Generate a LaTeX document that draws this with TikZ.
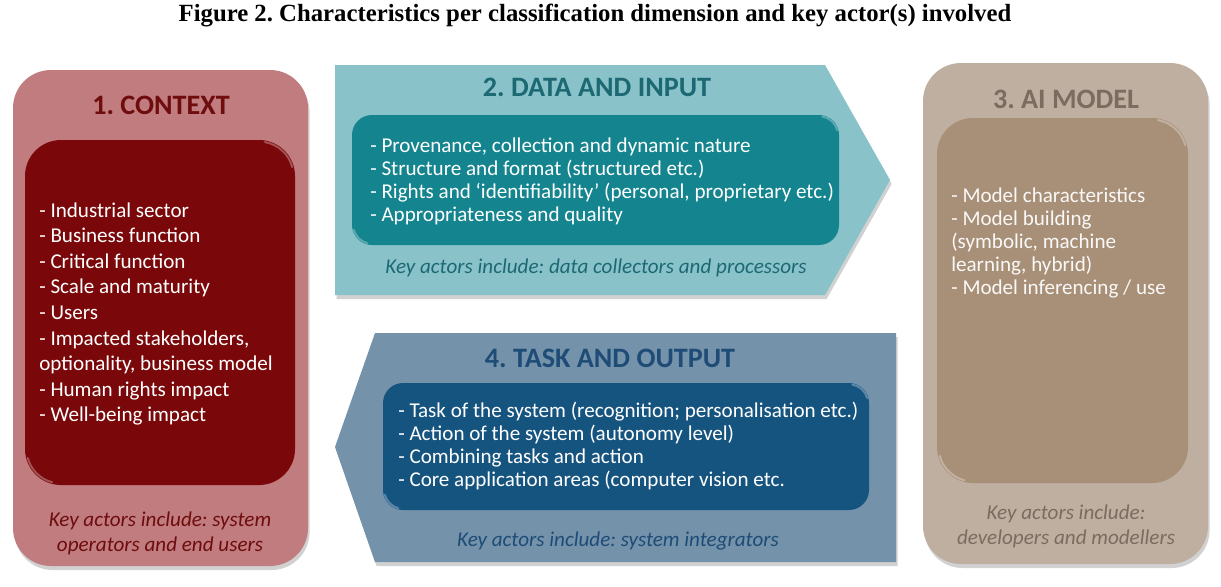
\documentclass[tikz,border=0pt]{standalone}
\usepackage{fontspec}
\setmainfont{Liberation Serif}
\setsansfont{Carlito}
\usetikzlibrary{positioning,shadows}
\frenchspacing
\definecolor{ctxout}{RGB}{192,124,126}
\definecolor{ctxin}{RGB}{122,8,10}
\definecolor{ctxtxt}{RGB}{110,12,14}
\definecolor{datout}{RGB}{138,194,202}
\definecolor{datin}{RGB}{20,132,142}
\definecolor{dattxt}{RGB}{28,105,115}
\definecolor{modout}{RGB}{191,175,160}
\definecolor{modin}{RGB}{168,144,120}
\definecolor{modtxt}{RGB}{122,108,96}
\definecolor{tskout}{RGB}{116,146,170}
\definecolor{tskin}{RGB}{22,84,128}
\definecolor{tsktxt}{RGB}{30,76,118}
\tikzset{
  outbox/.style ={rounded corners=0.95cm,
                  drop shadow={shadow xshift=0.4mm, shadow yshift=-1mm,
                               opacity=0.3, fill=black!60}},
  arrbox/.style ={drop shadow={shadow xshift=0.4mm, shadow yshift=-1mm,
                               opacity=0.3, fill=black!60}},
  inbox/.style  ={rounded corners=0.9cm},
  inboxs/.style ={rounded corners=0.5cm},
  bevel/.style  ={white, opacity=0.3, line width=1.4pt, line cap=round},
  ttl/.style    ={font=\sffamily\bfseries\fontsize{20}{24}\selectfont},
  lst/.style    ={anchor=west, align=left, inner sep=0pt, text=white,
                  font=\sffamily\fontsize{15}{16.4}\selectfont},
  lstw/.style   ={lst, font=\sffamily\fontsize{15}{18.2}\selectfont},
  keyact/.style ={align=center, inner sep=0pt,
                  font=\sffamily\itshape\fontsize{15}{17.7}\selectfont},
  figttl/.style ={font=\bfseries\fontsize{17.6}{20}\selectfont, inner sep=0pt},
}
\begin{document}
\begin{tikzpicture}[x=0.025cm, y=-0.025cm]
  \useasboundingbox (0,0) rectangle (1221,586);
  \node[figttl] (fig) at (595,16)
    {Figure 2. Characteristics per classification dimension and key actor(s) involved};
  % ---- 1. context (left)
  \path[outbox, fill=ctxout] (13,70) rectangle (308,566);
  \path[inbox, fill=ctxin] (25,140) rectangle (295,485);
  \node[ttl, text=ctxtxt] (ctxt) at (161,105) {1. CONTEXT};
  \node[lstw] (ctxl) at (39,314)
    {- Industrial sector\\
     - Business function\\
     - Critical function\\
     - Scale and maturity\\
     - Users\\
     - Impacted stakeholders,\\
     optionality, business model\\
     - Human rights impact\\
     - Well-being impact};
  \node[keyact, text=ctxtxt] (ctxk) at (160,533)
    {Key actors include: system\\operators and end users};
  % ---- 2. data and input (top arrow)
  \path[arrbox, fill=datout] (335,65) -- (825,65) -- (890,180)
    -- (825,295) -- (335,295) -- cycle;
  \path[inboxs, fill=datin] (352,115) rectangle (839,245);
  \node[ttl, text=dattxt] (datt) at (597,87) {2. DATA AND INPUT};
  \node[lst] (datl) at (370,181)
    {- Provenance, collection and dynamic nature\\
     - Structure and format (structured etc.)\\
     - Rights and ‘identifiability’ (personal, proprietary etc.)\\
     - Appropriateness and quality};
  \node[keyact, text=dattxt] (datk) at (596,268)
    {Key actors include: data collectors and processors};
  % ---- 3. ai model (right)
  \path[outbox, fill=modout] (923,63) rectangle (1208,564);
  \path[inbox, fill=modin] (937,118) rectangle (1188,483);
  \node[ttl, text=modtxt] (modt) at (1066,99) {3. AI MODEL};
  \node[lst, text=white!94!modin] (modl) at (951,243)
    {- Model characteristics\\
     - Model building\\
     (symbolic, machine\\
     learning, hybrid)\\
     - Model inferencing / use};
  \node[keyact, text=modtxt] (modk) at (1066,526)
    {Key actors include:\\developers and modellers};
  % ---- 4. task and output (bottom arrow)
  \path[arrbox, fill=tskout] (375,333) -- (896,333) -- (896,562)
    -- (375,562) -- (335,447) -- cycle;
  \path[inboxs, fill=tskin] (383,383) rectangle (869,510);
  \node[ttl, text=tsktxt] (tskt) at (610,358) {4. TASK AND OUTPUT};
  \node[lst] (tskl) at (398,446)
    {- Task of the system (recognition; personalisation etc.)\\
     - Action of the system (autonomy level)\\
     - Combining tasks and action\\
     - Core application areas (computer vision etc.};
  \node[keyact, text=tsktxt] (tskk) at (618,541)
    {Key actors include: system integrators};
  % ---- bevel highlights on the inner boxes
  \foreach \cx/\cy/\r in {259/176/0.86, 819/135/0.47, 1152/154/0.86, 849/403/0.47}
    \draw[bevel] (\cx,\cy) ++(80:\r cm) arc[start angle=80, end angle=15, radius=\r cm];
  \foreach \cx/\cy/\r in {61/449/0.86, 372/225/0.47, 973/447/0.86, 403/490/0.47}
    \draw[bevel] (\cx,\cy) ++(255:\r cm) arc[start angle=255, end angle=195, radius=\r cm];
\end{tikzpicture}
\end{document}
